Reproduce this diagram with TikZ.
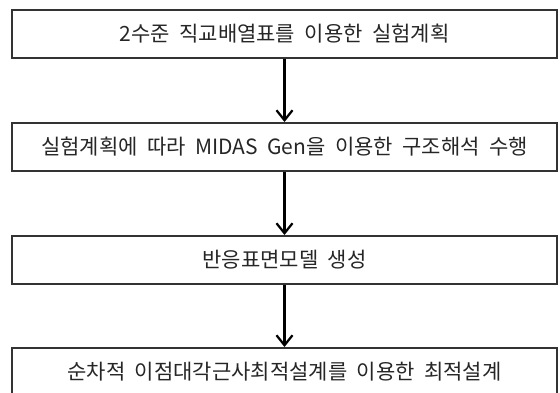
\documentclass[tikz,border=0pt]{standalone}
\usepackage{fontspec}
\setmainfont[WordSpace=2]{Noto Sans CJK KR}
\usetikzlibrary{arrows.meta}
\definecolor{boxline}{HTML}{333333}
\tikzset{
  stepbox/.style={draw=boxline, line width=2pt, fill=white, minimum width=545pt, minimum height=48pt, inner sep=0pt, font=\fontsize{21pt}{22pt}\selectfont, text=black!85},
  flow/.style={draw=black, line width=2.2pt, -{Straight Barb[length=10pt,width=16pt,line width=2.2pt]}}
}
\begin{document}
\begin{tikzpicture}[x=1pt,y=1pt]
  \useasboundingbox (0,0) rectangle (560,-392);
  \clip (0,0) rectangle (560,-392);
  \node[stepbox] (b1) at (284.5,-34) {2수준 직교배열표를 이용한 실험계획};
  \node[stepbox] (b2) at (284.5,-147) {실험계획에 따라 MIDAS Gen을 이용한 구조해석 수행};
  \node[stepbox] (b3) at (284.5,-260) {반응표면모델 생성};
  \node[stepbox] (b4) at (284.5,-372) {순차적 이점대각근사최적설계를 이용한 최적설계};
  \draw[flow] (b1.south) -- (b2.north);
  \draw[flow] (b2.south) -- (b3.north);
  \draw[flow] (b3.south) -- (b4.north);
\end{tikzpicture}
\end{document}
